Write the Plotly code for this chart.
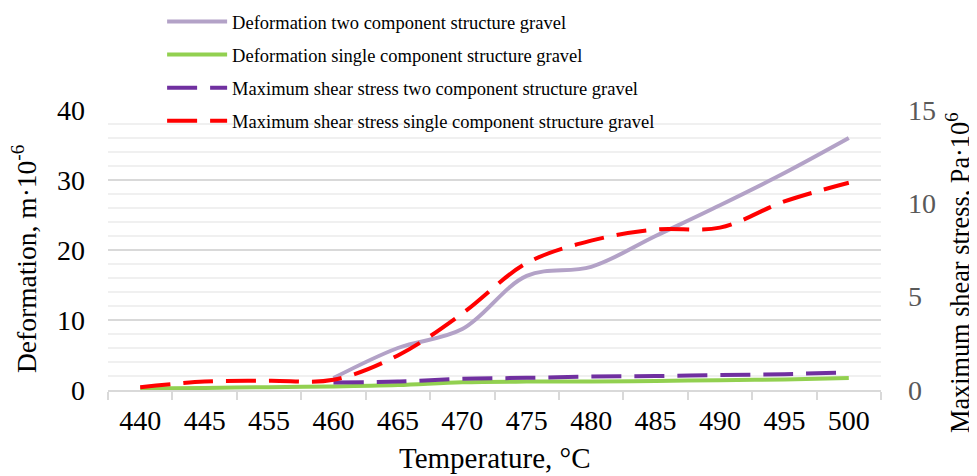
import plotly.graph_objects as go

temperature = ["440", "445", "455", "460", "465", "470", "475", "480", "485", "490", "495", "500"]
deform_two = [None, None, None, 1.7, 6.0, 8.7, 16.3, 17.6, 22.0, 26.4, 31.0, 36.0]
deform_single = [0.2, 0.3, 0.4, 0.5, 0.7, 1.1, 1.2, 1.2, 1.3, 1.4, 1.5, 1.7]
stress_two = [None, None, None, 0.4, 0.45, 0.6, 0.65, 0.72, 0.75, 0.8, 0.85, 0.95]
stress_single = [0.15, 0.45, 0.5, 0.55, 1.85, 4.1, 6.8, 8.0, 8.6, 8.7, 10.1, 11.1]

names = [
    "Deformation two component structure gravel",
    "Deformation single component structure gravel",
    "Maximum shear stress two component structure gravel",
    "Maximum shear stress single component structure gravel",
]

FONT = "Liberation Serif, Times New Roman, serif"

# page body has an 8px default margin; figure is sized to fit the 977x476 window
W, H = 969, 468
ML, MR, MT, MB = 100, 96, 102, 86
PW, PH = W - ML - MR, H - MT - MB

fig = go.Figure()
fig.add_trace(go.Scatter(x=temperature, y=deform_two, name=names[0], mode="lines", legendgroup="a",
                         line=dict(color="#b3a2c7", width=4, shape="spline", smoothing=1)))
fig.add_trace(go.Scatter(x=temperature, y=deform_single, name=names[1], mode="lines", legendgroup="b",
                         line=dict(color="#92d050", width=4, shape="spline", smoothing=1)))
fig.add_trace(go.Scatter(x=temperature, y=stress_two, name=names[2], mode="lines", yaxis="y2", legendgroup="c",
                         line=dict(color="#7030a0", width=4, shape="spline", smoothing=1, dash="30px,13px")))
fig.add_trace(go.Scatter(x=temperature, y=stress_single, name=names[3], mode="lines", yaxis="y2", legendgroup="d",
                         line=dict(color="#ff0000", width=4, shape="spline", smoothing=1, dash="30px,13px")))

fig.update_layout(
    width=W, height=H,
    margin=dict(l=ML, r=MR, t=MT, b=MB, autoexpand=False),
    paper_bgcolor="white", plot_bgcolor="white",
    font=dict(family=FONT, color="black", size=28),
    showlegend=True,
    legend=dict(x=0.07, y=1.382, xanchor="left", yanchor="top", traceorder="grouped",
                bgcolor="rgba(0,0,0,0)", font=dict(size=18.5, family=FONT, color="black"),
                itemwidth=60, tracegroupgap=6),
    xaxis=dict(type="category", range=[-0.5, 11.5], showgrid=False,
               showline=True, linecolor="#d9d9d9", linewidth=1.5,
               ticks="outside", tickson="boundaries", ticklen=8, tickcolor="#d9d9d9", tickwidth=1.5,
               tickfont=dict(size=28, color="black", family=FONT), automargin=False,
               ticklabelstandoff=5),
    yaxis=dict(range=[0, 40], dtick=10, showgrid=True, gridcolor="#d9d9d9", gridwidth=1.5,
               minor=dict(dtick=2, showgrid=True, gridcolor="#f0f0f0", gridwidth=1.5),
               showline=False, zeroline=False, ticks="", automargin=False,
               tickfont=dict(size=28, color="black", family=FONT), ticklabelstandoff=22),
    yaxis2=dict(range=[0, 15], dtick=5, overlaying="y", side="right", showgrid=False,
                showline=False, zeroline=False, ticks="", automargin=False,
                tickfont=dict(size=28, color="#595959", family=FONT), ticklabelstandoff=26),
    annotations=[
        dict(text="Temperature, °C", xref="paper", yref="paper", x=0.5, y=-68 / PH,
             xanchor="center", yanchor="middle", showarrow=False,
             font=dict(size=29, family=FONT, color="black")),
        dict(text="Deformation, m·10<sup>-6</sup>", xref="paper", yref="paper",
             x=(16 - ML) / PW, y=131 / PH, xanchor="center", yanchor="middle", textangle=-90,
             showarrow=False, font=dict(size=27.5, family=FONT, color="black")),
        dict(text="Maximum shear stress, Pa·10<sup>6</sup>", xref="paper", yref="paper",
             x=(950 - ML) / PW, y=117 / PH, xanchor="center", yanchor="middle", textangle=-90,
             showarrow=False, font=dict(size=26.3, family=FONT, color="black")),
    ],
)

fig.write_html("out.html")
